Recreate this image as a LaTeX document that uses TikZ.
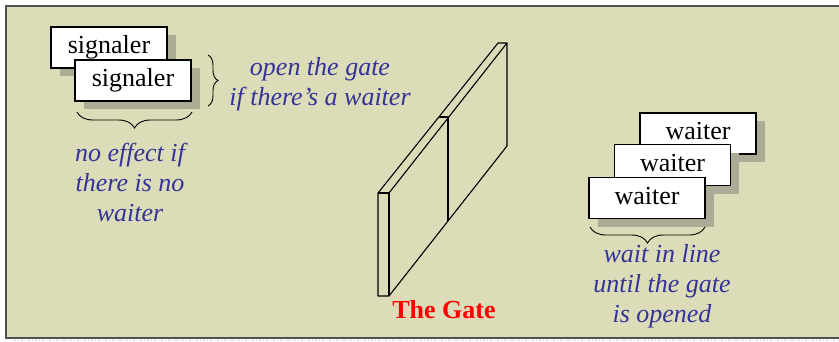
\documentclass[tikz,border=0pt]{standalone}
\usepackage{fontspec}
\setmainfont{Liberation Serif}
\usetikzlibrary{shadows,decorations.pathreplacing}
\definecolor{bgbeige}{HTML}{DCDCB9}
\definecolor{framegray}{HTML}{505050}
\definecolor{shadowgray}{HTML}{ABAB96}
\definecolor{noteblue}{HTML}{333399}
\tikzset{
  actor/.style={draw=black, line width=1.2pt, fill=white, minimum width=116pt,
    minimum height=41pt, inner sep=0pt, text height=18pt, text depth=6pt,
    font=\fontsize{26}{30}\selectfont,
    drop shadow={shadow xshift=8.5pt, shadow yshift=-8pt, fill=shadowgray, opacity=1}},
  note/.style={text=noteblue, font=\fontsize{26}{30}\selectfont\itshape, align=center, inner sep=0pt},
  curly/.style={decorate, decoration={brace, amplitude=#1}, line width=0.9pt},
  gateline/.style={line width=1.1pt, line join=round}
}
\begin{document}
\begin{tikzpicture}[x=1pt,y=-1pt]
\useasboundingbox (0,0) rectangle (839,341);
% frame
\fill[bgbeige] (6,6) rectangle (845,338);
\draw[framegray, line width=2pt] (845,6) -- (6,6) -- (6,338) -- (845,338);
\draw[black!20, line width=1.5pt, dotted] (14,340.5) -- (839,340.5);

% signalers
\node[actor] (s1) at (109,47.5) {signaler};
\node[actor] (s2) at (133,80.5) {signaler};
\coordinate (bs1) at (208,55);
\coordinate (bs2) at (208,106);
\draw[curly=10pt] (bs1) -- (bs2);
\coordinate (bb1) at (192,112);
\coordinate (bb2) at (77,112);
\draw[curly=16pt] (bb1) -- (bb2);
\node[note] (open) at (320,84) {open the gate\\if there’s a waiter};
\node[note] (noeff) at (130,182) {no effect if\\there is no\\waiter};

% gate
\coordinate (gA) at (378,193);
\coordinate (gB) at (389,193);
\coordinate (gC) at (389,296);
\coordinate (gD) at (378,296);
\coordinate (gE) at (498,43);
\coordinate (gF) at (507,43);
\coordinate (gG) at (507,146);
\coordinate (gM1) at (439,117);
\coordinate (gM2) at (448,117);
\coordinate (gM3) at (448,221);
\draw[gateline] (gA) -- (gE) -- (gF) -- (gG) -- (gC) -- (gD) -- cycle;
\draw[gateline] (gA) -- (gB) -- (gC);
\draw[gateline] (gB) -- (gF);
\draw[gateline] (gM1) -- (gM2) -- (gM3);
\node[text=red, font=\fontsize{26}{30}\selectfont\bfseries, anchor=base, inner sep=0pt] (gate) at (444,318) {The Gate};

% waiters
\node[actor] (w1) at (698,133.5) {waiter};
\node[actor] (w2) at (672.5,165) {waiter};
\node[actor] (w3) at (647,198) {waiter};
\coordinate (bw1) at (705,227);
\coordinate (bw2) at (590,227);
\draw[curly=16pt] (bw1) -- (bw2);
\node[note] (wait) at (662,286) {wait in line\\until the gate\\is opened};
\end{tikzpicture}
\end{document}
